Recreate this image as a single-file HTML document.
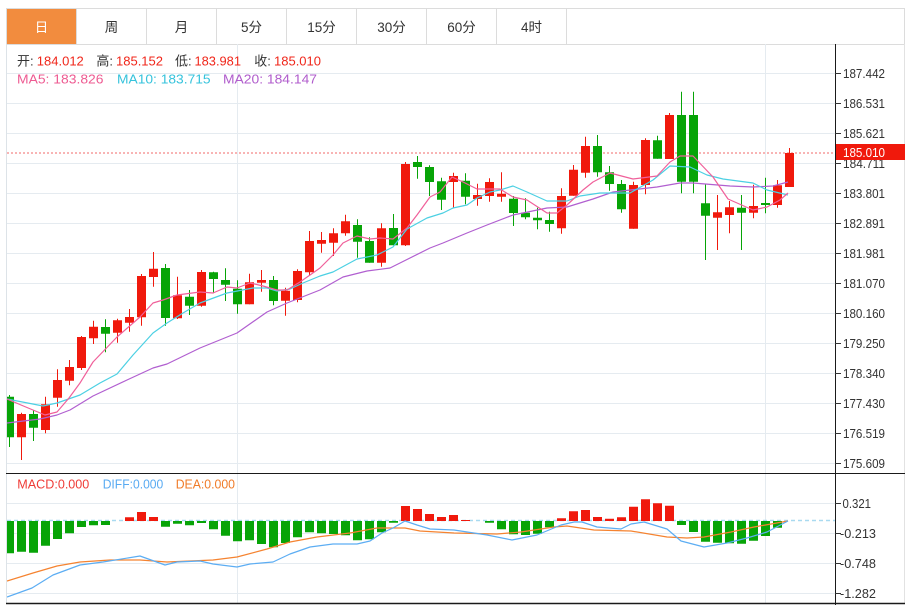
<!DOCTYPE html>
<html><head><meta charset="utf-8">
<style>
html,body{margin:0;padding:0;background:#fff;}
svg{display:block;font-family:"Liberation Sans","Noto Sans CJK SC",sans-serif;}
</style></head>
<body>
<svg width="908" height="605" viewBox="0 0 908 605" xmlns="http://www.w3.org/2000/svg">
<defs>
<clipPath id="cp"><rect x="7" y="44" width="828" height="560"/></clipPath>
</defs>
<rect x="6.5" y="8.5" width="898" height="36" fill="#fff" stroke="#dcdcdc"/>
<rect x="7" y="9" width="69" height="35" fill="#f28c3e"/>
<g stroke="#dcdcdc">
<line x1="76.5" y1="9" x2="76.5" y2="44"/><line x1="146.5" y1="9" x2="146.5" y2="44"/>
<line x1="216.5" y1="9" x2="216.5" y2="44"/><line x1="286.5" y1="9" x2="286.5" y2="44"/>
<line x1="356.5" y1="9" x2="356.5" y2="44"/><line x1="426.5" y1="9" x2="426.5" y2="44"/>
<line x1="496.5" y1="9" x2="496.5" y2="44"/><line x1="566.5" y1="9" x2="566.5" y2="44"/>
</g>
<g font-size="13.5" text-anchor="middle" fill="#333">
<text x="41.5" y="32" fill="#fff">日</text>
<text x="111.5" y="32">周</text>
<text x="181.5" y="32">月</text>
<text x="251.5" y="32">5分</text>
<text x="321.5" y="32">15分</text>
<text x="391.5" y="32">30分</text>
<text x="461.5" y="32">60分</text>
<text x="531.5" y="32">4时</text>
</g>
<line x1="6.5" y1="44" x2="6.5" y2="604" stroke="#dde3e8"/>
<line x1="904.5" y1="44" x2="904.5" y2="604" stroke="#e2e2e2"/>
<g stroke="#e5ebf0" stroke-width="1">
<path d="M7 73.5H835M7 103.5H835M7 133.5H835M7 163.5H835M7 193.5H835M7 223.5H835M7 253.5H835M7 283.5H835M7 313.5H835M7 343.5H835M7 373.5H835M7 403.5H835M7 433.5H835M7 463.5H835M7 503.5H835M7 533.5H835M7 563.5H835M7 593.5H835M237.5 44V603M765.5 44V603"/>
</g>
<g font-size="13">
<text x="17" y="65.5" fill="#333">开:</text><text x="36.8" y="65.5" fill="#f0261a" textLength="47" lengthAdjust="spacingAndGlyphs">184.012</text>
<text x="96.4" y="65.5" fill="#333">高:</text><text x="116" y="65.5" fill="#f0261a" textLength="47" lengthAdjust="spacingAndGlyphs">185.152</text>
<text x="175" y="65.5" fill="#333">低:</text><text x="194.5" y="65.5" fill="#f0261a" textLength="46.5" lengthAdjust="spacingAndGlyphs">183.981</text>
<text x="254.3" y="65.5" fill="#333">收:</text><text x="274" y="65.5" fill="#f0261a" textLength="47" lengthAdjust="spacingAndGlyphs">185.010</text>
<text x="17" y="83.5" fill="#ee5b92" textLength="86.5" lengthAdjust="spacingAndGlyphs">MA5: 183.826</text>
<text x="117" y="83.5" fill="#35c3dc" textLength="93.6" lengthAdjust="spacingAndGlyphs">MA10: 183.715</text>
<text x="223" y="83.5" fill="#b05ccc" textLength="94" lengthAdjust="spacingAndGlyphs">MA20: 184.147</text>
<text x="17.3" y="488.5" fill="#ef3b36" textLength="72" lengthAdjust="spacingAndGlyphs">MACD:0.000</text>
<text x="102.7" y="488.5" fill="#58aaf2" textLength="60.6" lengthAdjust="spacingAndGlyphs">DIFF:0.000</text>
<text x="175.7" y="488.5" fill="#f07b28" textLength="59.3" lengthAdjust="spacingAndGlyphs">DEA:0.000</text>
</g>
<line x1="7" y1="153" x2="835" y2="153" stroke="#f06a6a" stroke-width="1" stroke-dasharray="2,2"/>
<g clip-path="url(#cp)">
<path fill="none" stroke="#f0190c" d="M21.5 412.7V460M45.5 396.7V433.3M57.5 369.3V406.7M69.5 360V385.3M81.5 336V370M93.5 320.7V344M117.5 318.7V342.7M129.5 309V331.7M141.5 274V325.7M153.5 252V286.7M177.5 276.7V319M201.5 270V306.7M249.5 273.7V304.3M261.5 270V291.7M285.5 287.7V315.7M297.5 269.3V302.3M309.5 231V275.3M321.5 232V252.7M333.5 228.3V256M345.5 214.7V235.7M381.5 223.3V266.7M405.5 162V246M453.5 172.7V207.7M477.5 183.7V205.7M489.5 178.3V201.7M501.5 172.3V201.7M561.5 188.3V233.7M573.5 165V195.7M585.5 136.7V177.7M633.5 181.7V228.7M645.5 138.3V194.3M669.5 113V159M717.5 195V250M729.5 201V233.3M753.5 184.7V218.3M777.5 180V207.7M789.5 148V187"/>
<path fill="#f0190c" d="M17 414h9v23.3h-9zM41 404.3h9v25.7h-9zM53 380h9v17.7h-9zM65 367h9v13.7h-9zM77 337h9v31h-9zM89 326.7h9v11.6h-9zM113 320.3h9v12.4h-9zM125 317h9v5.7h-9zM137 276h9v41.3h-9zM149 268.7h9v8.3h-9zM173 295.3h9v23h-9zM197 272h9v33.7h-9zM245 282.3h9v22h-9zM257 280h9v2.7h-9zM281 290.7h9v10h-9zM293 271h9v29h-9zM305 241h9v31.3h-9zM317 240h9v3.7h-9zM329 233.3h9v9.4h-9zM341 221.3h9v12h-9zM377 228.3h9v34.4h-9zM401 164h9v81.3h-9zM449 176h9v6h-9zM473 195h9v4h-9zM485 182h9v14h-9zM497 193.7h9v3h-9zM557 196h9v32.3h-9zM569 169.7h9v26h-9zM581 146h9v26.7h-9zM629 185h9v43.7h-9zM641 140h9v45h-9zM665 115h9v44h-9zM713 212.3h9v5.4h-9zM725 207.3h9v7.7h-9zM749 206h9v6.7h-9zM773 185.3h9v19.7h-9zM785 153h9v34h-9z"/>
<path fill="none" stroke="#07a407" d="M9.5 395V447M33.5 410V441M105.5 319.3V352.3M165.5 264V325.7M189.5 290V315M213.5 271.7V293.3M225.5 268.3V301M237.5 280.3V313.7M273.5 276V305.3M357.5 219.3V257.7M369.5 237.3V262.7M393.5 214V245.3M417.5 156V178.7M429.5 165.3V196M441.5 177.7V210M465.5 173.3V204.3M513.5 196V226M525.5 198.3V219.3M537.5 207.7V229.3M549.5 211.7V231.7M597.5 135V176.7M609.5 166V190.7M621.5 180V212.7M657.5 135.7V158.7M681.5 91.7V193.3M693.5 91.7V193.3M705.5 184.3V260M741.5 195V250M765.5 177.7V213.3"/>
<path fill="#07a407" d="M5 396.7h9v40.6h-9zM29 414h9v13.7h-9zM101 327h9v6.7h-9zM161 268h9v50h-9zM185 296.7h9v9h-9zM209 272.3h9v6.7h-9zM221 280h9v4.7h-9zM233 288.7h9v15.6h-9zM269 280h9v21h-9zM353 225h9v16.7h-9zM365 241h9v21.7h-9zM389 228h9v17.3h-9zM413 162h9v5h-9zM425 167h9v15h-9zM437 181.3h9v18.4h-9zM461 180.7h9v16h-9zM509 198.7h9v14.3h-9zM521 212.7h9v4.6h-9zM533 217.7h9v2.6h-9zM545 220h9v4h-9zM593 146h9v26.3h-9zM605 172.3h9v11.7h-9zM617 184h9v25.3h-9zM653 140.3h9v18.4h-9zM677 115h9v66.7h-9zM689 115h9v66.7h-9zM701 203.3h9v12.4h-9zM737 207.7h9v5h-9zM761 203h9v2h-9z"/>
<g fill="none" stroke-width="1.2" stroke-linejoin="round">
<polyline stroke="#b15fd0" points="7,423 40,419 57,415 70,410 93,396 127,380 153,368 167,364 200,348 237,333 267,312 287,303 320,290 343,277 367,271 390,268 400,263 430,248 443,243 467,233 487,225 513,215 547,208 567,207 593,199 613,192 657,187 680,183 693,183 730,186 753,187 773,186 788,182"/>
<polyline stroke="#4cd0e3" points="7,399 43,406 57,403 80,395 100,383 117,374 133,355 153,333 167,323 183,313 200,303 227,293 253,288 267,288 277,291 290,289 303,283 320,276 333,272 357,259 377,255 393,247 407,229 427,218 443,213 453,208 467,205 477,198 490,192 500,190 513,186 527,192 547,201 567,201 580,196 600,193 630,193 653,180 670,166 690,167 707,175 723,179 753,183 767,190 788,195"/>
<polyline stroke="#f0609a" points="7,399 21,405 33,410 45,415 57,412 69,398 80,383 93,362 117,337 140,317 153,303 163,300 177,295 200,292 213,293 227,287 237,288 250,283 263,286 277,290 287,290 300,282 320,268 333,255 343,243 357,236 370,239 380,238 393,239 407,228 417,215 430,197 440,192 452,177 463,182 477,189 500,189 513,197 527,200 547,213 557,213 567,205 583,190 593,182 610,173 633,179 657,176 670,162 680,156 693,156 713,177 728,199 753,210 767,207 780,200 788,193"/>
</g>
<line x1="7" y1="520.5" x2="835" y2="520.5" stroke="#a9daf0" stroke-width="1.5" stroke-dasharray="4,3"/>
<path fill="#07a407" d="M5 521h9v32.3h-9zM17 521h9v30.7h-9zM29 521h9v31.7h-9zM41 521h9v24.7h-9zM53 521h9v18h-9zM65 521h9v12.3h-9zM77 521h9v6h-9zM89 521h9v4.3h-9zM101 521h9v4h-9zM161 521h9v5.7h-9zM173 521h9v2.7h-9zM185 521h9v4.3h-9zM197 521h9v2h-9zM209 521h9v8.3h-9zM221 521h9v14.7h-9zM233 521h9v20.3h-9zM245 521h9v19.3h-9zM257 521h9v23h-9zM269 521h9v26.3h-9zM281 521h9v22h-9zM293 521h9v16.3h-9zM305 521h9v11.3h-9zM317 521h9v12.3h-9zM329 521h9v13h-9zM341 521h9v14.3h-9zM353 521h9v19.3h-9zM365 521h9v18.3h-9zM377 521h9v11.3h-9zM389 521h9v1.7h-9zM485 521h9v1.7h-9zM497 521h9v8.3h-9zM509 521h9v13.3h-9zM521 521h9v14h-9zM533 521h9v12.7h-9zM545 521h9v6.3h-9zM677 521h9v4h-9zM689 521h9v11h-9zM701 521h9v20.7h-9zM713 521h9v21.7h-9zM725 521h9v22.3h-9zM737 521h9v22.7h-9zM749 521h9v19.7h-9zM761 521h9v15h-9zM773 521h9v6.7h-9z"/>
<path fill="#f0190c" d="M125 517.3h9v3.7h-9zM137 512h9v9h-9zM149 517h9v4h-9zM401 506h9v15h-9zM413 509h9v12h-9zM425 514h9v7h-9zM437 517h9v4h-9zM449 515h9v6h-9zM461 520h9v1h-9zM557 518.3h9v2.7h-9zM569 511.3h9v9.7h-9zM581 510h9v11h-9zM593 517h9v4h-9zM605 518.7h9v2.3h-9zM617 517.3h9v3.7h-9zM629 506.7h9v14.3h-9zM641 499.3h9v21.7h-9zM653 503.3h9v17.7h-9zM665 505.7h9v15.3h-9z"/>
<g fill="none" stroke-width="1.2" stroke-linejoin="round">
<polyline stroke="#f58330" points="7,581 33,573 57,566 80,562 110,560 140,560 167,562 213,560 237,557 267,549 290,542 317,537 350,533 377,528 405,528 420,531 454,533 497,534 521,532 554,527 567,526 594,530 631,531 667,537 687,538 704,537 731,532 754,527 788,521"/>
<polyline stroke="#5cadf3" points="7,597 32,588 53,575 80,565 103,562 140,556 165,565 177,562 200,561 213,564 237,567 250,564 273,562 290,554 310,547 333,544 357,544 370,541 382,533 393,528 405,521 417,525 430,529 454,530 487,535 512,540 537,535 561,525 574,522 582,522 597,527 621,529 631,524 644,522 667,529 681,541 704,547 727,543 747,538 767,532 788,521"/>
</g>
</g>
<line x1="6" y1="473.5" x2="905" y2="473.5" stroke="#1a1a1a" stroke-width="1"/>
<line x1="6" y1="603.5" x2="905" y2="603.5" stroke="#1a1a1a" stroke-width="1.5"/>
<line x1="835.5" y1="44" x2="835.5" y2="605" stroke="#1a1a1a" stroke-width="1"/>
<path stroke="#333" stroke-width="1" d="M835 73.5h6M835 103.5h6M835 133.5h6M835 163.5h6M835 193.5h6M835 223.5h6M835 253.5h6M835 283.5h6M835 313.5h6M835 343.5h6M835 373.5h6M835 403.5h6M835 433.5h6M835 463.5h6M835 503.5h6M835 533.5h6M835 563.5h6M835 593.5h6"/>
<g font-size="12.5" fill="#333">
<text x="843" y="78" textLength="42" lengthAdjust="spacingAndGlyphs">187.442</text>
<text x="843" y="108" textLength="42" lengthAdjust="spacingAndGlyphs">186.531</text>
<text x="843" y="138" textLength="42" lengthAdjust="spacingAndGlyphs">185.621</text>
<text x="843" y="168" textLength="42" lengthAdjust="spacingAndGlyphs">184.711</text>
<text x="843" y="198" textLength="42" lengthAdjust="spacingAndGlyphs">183.801</text>
<text x="843" y="228" textLength="42" lengthAdjust="spacingAndGlyphs">182.891</text>
<text x="843" y="258" textLength="42" lengthAdjust="spacingAndGlyphs">181.981</text>
<text x="843" y="288" textLength="42" lengthAdjust="spacingAndGlyphs">181.070</text>
<text x="843" y="318" textLength="42" lengthAdjust="spacingAndGlyphs">180.160</text>
<text x="843" y="348" textLength="42" lengthAdjust="spacingAndGlyphs">179.250</text>
<text x="843" y="378" textLength="42" lengthAdjust="spacingAndGlyphs">178.340</text>
<text x="843" y="408" textLength="42" lengthAdjust="spacingAndGlyphs">177.430</text>
<text x="843" y="438" textLength="42" lengthAdjust="spacingAndGlyphs">176.519</text>
<text x="843" y="468" textLength="42" lengthAdjust="spacingAndGlyphs">175.609</text>
<text x="842.5" y="508" textLength="28.5" lengthAdjust="spacingAndGlyphs">0.321</text>
<text x="840" y="538" textLength="36" lengthAdjust="spacingAndGlyphs">-0.213</text>
<text x="840" y="568" textLength="36" lengthAdjust="spacingAndGlyphs">-0.748</text>
<text x="840" y="598" textLength="36" lengthAdjust="spacingAndGlyphs">-1.282</text>
</g>
<rect x="836" y="144" width="69" height="16" fill="#f0190c"/>
<text x="843" y="157" font-size="13" fill="#fff" textLength="42" lengthAdjust="spacingAndGlyphs">185.010</text>
</svg>
</body></html>
